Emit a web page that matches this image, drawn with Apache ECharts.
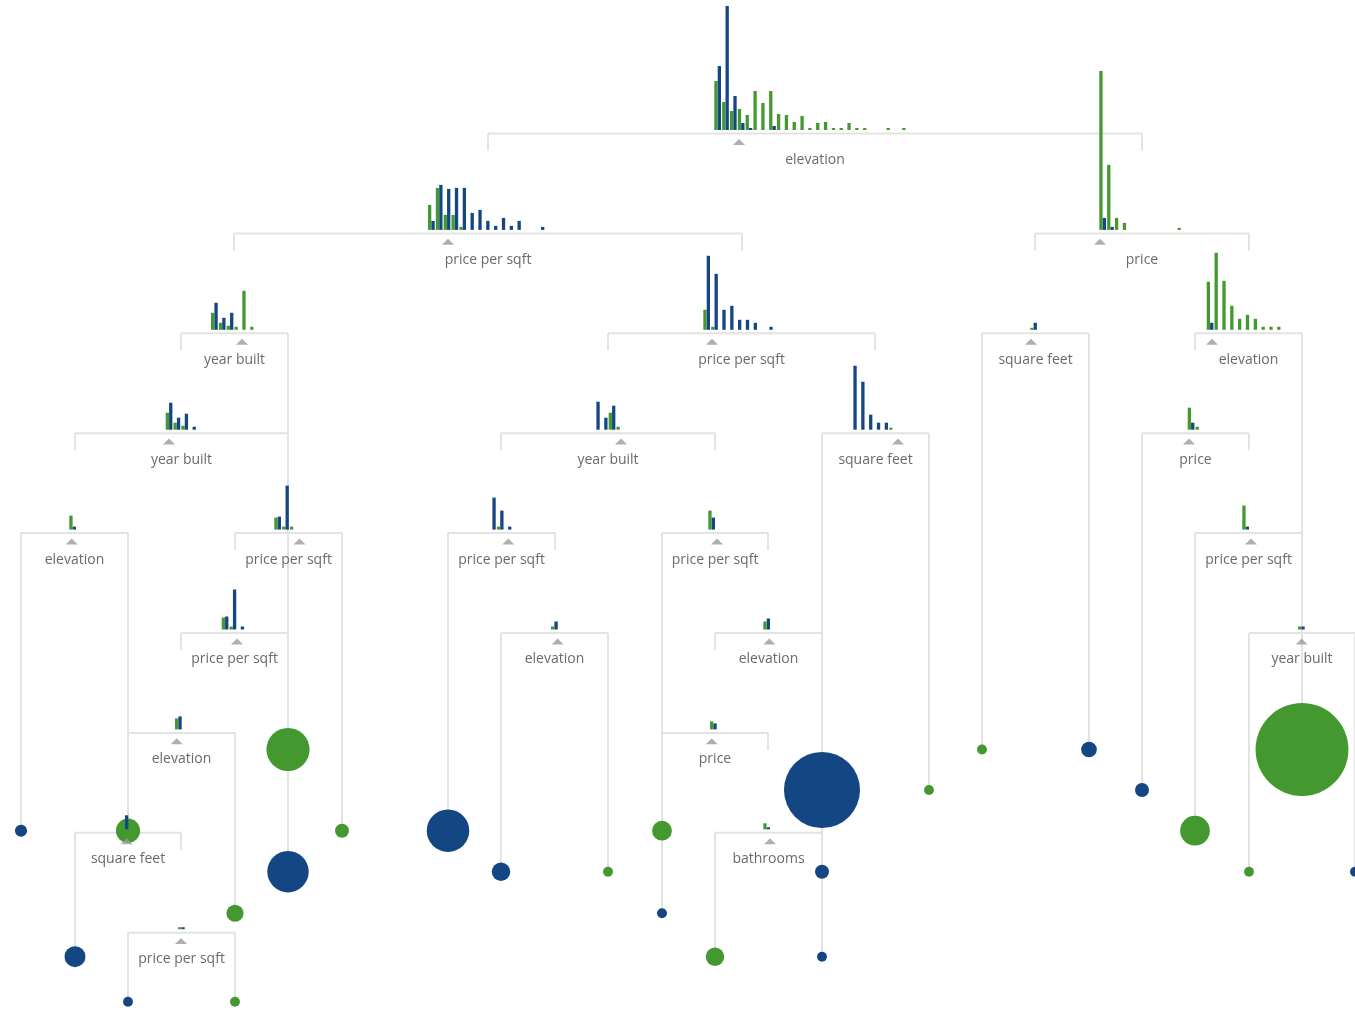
<!DOCTYPE html>
<html>
<head>
<meta charset="utf-8">
<script src="https://cdn.jsdelivr.net/npm/echarts@6.0.0/dist/echarts.min.js"></script>
<style>
  html, body { margin: 0; padding: 0; background: #ffffff; }
  #chart { width: 1355px; height: 1010px; }
</style>
</head>
<body>
<div id="chart"></div>
<script>
// ---------------- DATA ----------------
// Internal (split) nodes of the decision tree, index = node id
const nodeFeature = [
  'elevation', 'price per sqft', 'price', 'year built', 'price per sqft',
  'square feet', 'elevation', 'year built', 'year built', 'square feet',
  'price', 'elevation', 'price per sqft', 'price per sqft', 'price per sqft',
  'price per sqft', 'price per sqft', 'elevation', 'elevation', 'year built',
  'elevation', 'price', 'square feet', 'bathrooms', 'price per sqft'
];
const nodeDepth = [0, 1, 1, 2, 2, 2, 2, 3, 3, 3, 3, 4, 4, 4, 4, 4, 5, 5, 5, 5, 6, 6, 7, 7, 8];
// children: 'n#' = split node, 'l#' = leaf
const nodeLeftChild  = ['n1','n3','n5','n7','n8','l19','n10','n11','n13','l17','l21','l0','n16','l9','l12','l22','n20','l10','n21','l24','n22','l14','l6','l15','l7'];
const nodeRightChild = ['n2','n4','n6','l2','n9','l20','l23','n12','n14','l18','n15','l1','l3','n17','n18','n19','l4','l11','l13','l25','l5','n23','n24','l16','l8'];
// feature-axis extent of each node (value at left child / right child)
const nodeLeftX  = [488, 234, 1035, 181, 608, 982, 1195, 75, 501, 822, 1142, 21, 235, 448, 662, 1195, 181, 501, 715, 1249, 128, 662, 75, 715, 128];
const nodeRightX = [1142, 742, 1249, 288, 875, 1089, 1302, 288, 715, 929, 1249, 128, 342, 555, 768, 1302, 288, 608, 822, 1355, 235, 768, 181, 822, 235];
// split threshold on each node's feature axis
const nodeSplitX = [739, 448, 1100, 242, 712, 1031, 1212, 169, 621, 898, 1189, 71.7, 299.5, 508.3, 717, 1251, 237, 557.7, 769.3, 1301.7, 176.7, 711.7, 126.7, 770, 181];
// first histogram bin on each node's feature axis
const histStart = [714.3, 428, 1099.3, 211, 703.3, 1030.2, 1206.7, 165.7, 593, 850, 1187.7, 69.3, 274.3, 489, 708.3, 1242.3, 221.7, 551, 763.3, 1298, 175, 710, 121.6, 763.3, 178];

// histogram counts per bin (green = San Francisco, blue = New York)
const histGreen = [
  [49,28,19,21,15,39,27,39,16,15,8,14,2,7,8,2,2,7,2,2,0,0,2,0,2],
  [25,42,15,15,3],
  [159,65,12,7,0,0,0,0,0,0,2],
  [17,7,4,3,39,3],
  [20,3],
  [2],
  [48,77,49,24,11,15,11,3,3,3],
  [17,7,4,0],
  [0,0,17,3],
  [0,0,0,0,0,2],
  [22,3],
  [14],
  [12,3,3],
  [0,3,0],
  [19],
  [24],
  [12,3,0],
  [3],
  [8],
  [3],
  [11],
  [8],
  [0],
  [6],
  [2]
];
const histBlue = [
  [64,124,34,7,2,0,0,4],
  [9,45,41,42,42,17,20,9,4,12,4,9,0,0,3],
  [12,3],
  [27,12,17,0,0,0],
  [74,56,20,24,10,10,7,0,3],
  [7],
  [7],
  [27,12,16,3],
  [28,12,24,0],
  [64,48,15,7,7,0],
  [7,0],
  [3],
  [13,44,0],
  [32,19,3],
  [12],
  [3],
  [13,40,3],
  [8],
  [11],
  [3],
  [13],
  [6],
  [14],
  [2],
  [2]
];

// leaves: class (0 = green / SF, 1 = blue / NY) and number of homes
const leafClass = [1,0,0,0,1,0,1,1,0,1,1,0,0,1,1,0,1,1,0,0,1,1,0,0,0,1];
const leafCount = [3,12,38,4,35,6,9,2,2,37,7,2,8,4,2,7,2,118,2,2,5,4,18,176,2,2];

// ---------------- LAYOUT / STYLE ----------------
const COLORS = ['#43992f', '#144683'];
const LINE_COLOR = '#e3e3e3';
const LEVEL_TOP = 133.5, LEVEL_STEP = 99.9;
const leafRowY = {3: 749.5, 4: 790, 5: 830.7, 6: 871.7, 7: 913.3, 8: 956.7, 9: 1001.7};
const BIN = 7.83, BAR_W = 3.3, BLUE_OFF = 3.4;
const STUB = 17;
const RADIUS_K = 3.5;

function lineY(d) { return LEVEL_TOP + LEVEL_STEP * d; }

// ---------------- BUILD MARKS ----------------
const leafX = [], leafDepth = [];
nodeFeature.forEach((f, i) => {
  [[nodeLeftChild[i], nodeLeftX[i]], [nodeRightChild[i], nodeRightX[i]]].forEach(([c, x]) => {
    if (c[0] === 'l') {
      const k = +c.slice(1);
      leafX[k] = x; leafDepth[k] = nodeDepth[i] + 1;
    }
  });
});

const segs = [];
nodeFeature.forEach((f, i) => {
  const y = lineY(nodeDepth[i]);
  segs.push([nodeLeftX[i], y, nodeRightX[i], y]);
  [[nodeLeftChild[i], nodeLeftX[i]], [nodeRightChild[i], nodeRightX[i]]].forEach(([c, x]) => {
    if (c[0] === 'l') {
      const k = +c.slice(1);
      segs.push([x, y, x, leafRowY[leafDepth[k]]]);
    } else {
      segs.push([x, y, x, y + STUB]);
    }
  });
});

const bars = [];
nodeFeature.forEach((f, i) => {
  const base = lineY(nodeDepth[i]) - 3.5;
  histGreen[i].forEach((v, b) => { if (v > 0) bars.push([histStart[i] + b * BIN, base, v, BAR_W, 0]); });
  histBlue[i].forEach((v, b) => { if (v > 0) bars.push([histStart[i] + b * BIN + BLUE_OFF, base, v, BAR_W, 1]); });
});

const leaves = leafClass.map((c, k) => [leafX[k], leafRowY[leafDepth[k]], leafCount[k], c]);
const triangles = nodeSplitX.map((x, i) => [x, lineY(nodeDepth[i]) + 8.4]);
const labels = nodeFeature.map((f, i) => [(nodeLeftX[i] + nodeRightX[i]) / 2, lineY(nodeDepth[i]) + 26.5, f]);

// ---------------- CHART ----------------
const chart = echarts.init(document.getElementById('chart'), null, {renderer: 'canvas'});
chart.setOption({
  animation: false,
  backgroundColor: '#ffffff',
  grid: {left: 0, right: 0, top: 0, bottom: 0},
  xAxis: {type: 'value', min: 0, max: 1355, show: false},
  yAxis: {type: 'value', min: 0, max: 1010, inverse: true, show: false},
  series: [
    {
      type: 'custom', z: 1, silent: true, clip: false,
      data: segs,
      renderItem: (params, api) => {
        const p0 = api.coord([api.value(0), api.value(1)]);
        const p1 = api.coord([api.value(2), api.value(3)]);
        return {type: 'line', shape: {x1: p0[0], y1: p0[1], x2: p1[0], y2: p1[1]},
                style: {stroke: LINE_COLOR, lineWidth: 2}};
      }
    },
    {
      type: 'scatter', z: 2, silent: true,
      data: leaves,
      symbol: 'circle',
      symbolSize: v => 2 * RADIUS_K * Math.sqrt(v[2]),
      itemStyle: {color: p => COLORS[p.value[3]], opacity: 1}
    },
    {
      type: 'custom', z: 3, silent: true, clip: false,
      data: bars,
      renderItem: (params, api) => {
        const x = api.value(0), y = api.value(1), h = api.value(2), w = api.value(3);
        const p0 = api.coord([x, y]);
        const p1 = api.coord([x + w, y - h]);
        return {type: 'rect',
                shape: {x: p0[0], y: p1[1], width: p1[0] - p0[0], height: p0[1] - p1[1]},
                style: {fill: COLORS[api.value(4)]}};
      }
    },
    {
      type: 'scatter', z: 4, silent: true,
      data: triangles,
      symbol: 'triangle',
      symbolSize: [12, 6],
      itemStyle: {color: '#9b9b9b'}
    },
    {
      type: 'custom', z: 5, silent: true, clip: false,
      data: labels,
      renderItem: (params, api) => {
        const p = api.coord([api.value(0), api.value(1)]);
        return {type: 'text',
                style: {text: labels[params.dataIndex][2], x: p[0], y: p[1],
                        align: 'center', verticalAlign: 'middle',
                        fill: '#6a6a6a', font: '14px "Open Sans", sans-serif'}};
      }
    }
  ]
});
</script>
</body>
</html>
